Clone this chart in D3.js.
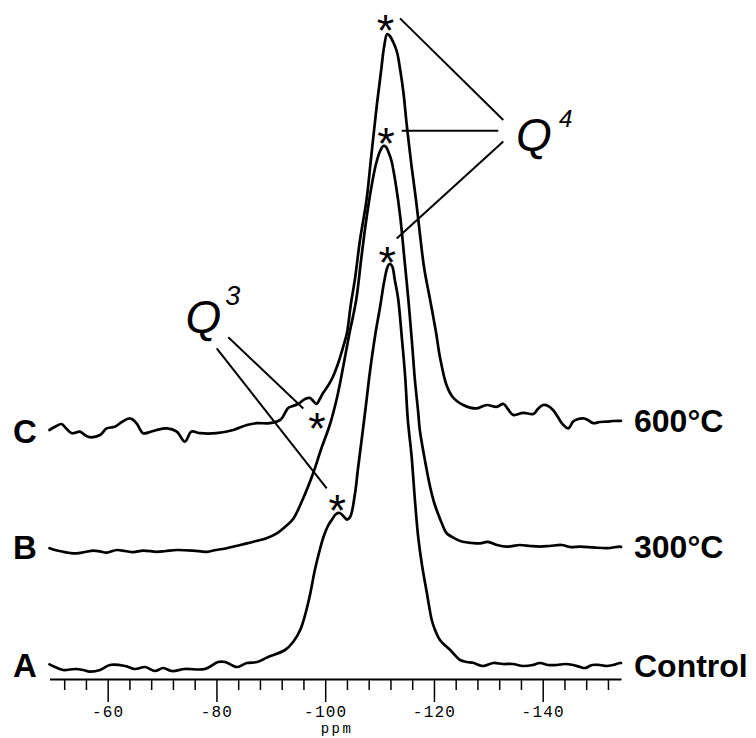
<!DOCTYPE html>
<html><head><meta charset="utf-8">
<script src="https://cdn.jsdelivr.net/npm/d3@7"></script>
<style>body{margin:0;background:#fff}svg{display:block}</style>
</head><body>
<svg id="chart" width="756" height="738"></svg>
<script>
// ---- data: 29Si NMR spectra (ppm, relative intensity) ----
const controlPpm = [-49.3,-50.3,-51.8,-54.0,-55.5,-56.7,-58.6,-60.4,-63.2,-65.0,-66.9,-68.7,-70.2,-71.8,-74.2,-77.9,-80.3,-81.6,-83.8,-85.6,-87.5,-89.5,-92.6,-94.1,-95.4,-96.3,-97.2,-98.1,-99.0,-99.7,-100.5,-101.2,-102.0,-102.7,-103.5,-104.0,-104.6,-105.5,-106.0,-106.7,-107.5,-108.2,-109.2,-110.1,-110.8,-111.4,-111.8,-112.3,-112.8,-113.4,-114.1,-114.7,-115.2,-115.9,-116.5,-117.1,-117.8,-118.7,-119.6,-120.2,-121.1,-123.0,-124.8,-126.1,-127.2,-129.0,-130.9,-132.7,-134.5,-136.4,-138.2,-139.5,-141.0,-142.6,-144.1,-145.6,-146.9,-147.8,-149.1,-150.5,-151.8,-152.9,-154.2,-154.4];
const controlInt = [-0.1,-0.75,-1.5,-1.25,-1.5,-1.9,-1.5,-0.25,-0.5,-1.25,-0.75,-1.75,-1.0,-1.75,-1.25,-1.25,0.5,0.5,-0.75,0.25,0.5,1.75,3.5,5.5,8.5,12.25,17.25,23.5,28.5,31.8,34.5,36,37.5,37.75,36.75,36.1,36.8,42.75,48.5,56,64.75,72.75,82.25,89.3,95.25,99,100,99.5,96,91.5,81.5,72,61,51.8,41,31.8,24.75,17.75,11,8.5,6,3.5,1,0.5,0.3,-0.5,0.25,0,0,-0.5,-0.25,0.25,-0.25,-0.25,0,-0.25,-0.75,-1,-0.25,-0.25,-0.5,-0.25,0.25,0.25];

const t300Ppm = [-49.3,-50.3,-51.8,-53.1,-54.3,-55.8,-57.4,-58.6,-59.8,-61.7,-63.2,-64.7,-66.5,-69.0,-70.7,-72.7,-75.7,-78.2,-79.9,-81.9,-83.6,-85.6,-87.3,-89.2,-91.1,-92.6,-94.1,-95.9,-97.8,-99.2,-100.9,-102.2,-103.3,-104.4,-105.7,-106.6,-107.5,-108.4,-109.3,-110.1,-110.7,-111.2,-111.7,-112.2,-113.0,-113.8,-114.5,-115.3,-116.0,-116.5,-117.1,-117.4,-118.4,-119.3,-120.0,-120.7,-121.5,-122.3,-123.9,-125.3,-127.0,-128.5,-129.9,-131.6,-133.4,-135.8,-137.7,-139.5,-141.3,-143.5,-145.0,-146.9,-149.3,-151.8,-154.2,-154.4];
const t300Int = [0.2,-0.25,-0.7,-1.0,-1.1,-0.75,-0.4,-0.6,-0.9,-0.25,-0.5,-0.8,-0.4,-0.7,-0.5,-0.25,-0.4,-0.7,-0.25,0.2,0.75,1.4,2.0,2.7,3.9,5.5,7.5,12.5,19,24.75,31.25,38,45.5,53.5,62.25,72.25,81.75,89.75,96,99.5,100.75,100.5,99,97,91,83.1,73.5,62.25,51,42.25,34.25,29.75,21.75,15.5,11.75,9,6.25,4,2.6,1.8,1.5,1.4,1.8,1.0,0.6,1.0,0.75,0.6,0.75,1.0,0.5,0.6,0.4,0.2,0.6,0.5];

const t600Ppm = [-49.3,-50.3,-51.5,-52.3,-53.4,-54.9,-55.8,-56.7,-58.6,-59.8,-61.3,-62.6,-64.1,-65.3,-66.5,-67.8,-69.0,-70.9,-72.7,-74.2,-75.4,-77.0,-80.0,-83.1,-85.6,-87.4,-89.8,-91.7,-92.2,-93.2,-94.1,-95.0,-96.3,-97.2,-97.8,-98.4,-99.0,-99.6,-100.5,-101.4,-102.4,-103.3,-104.0,-104.7,-105.5,-106.4,-107.6,-108.4,-109.5,-110.3,-110.8,-111.4,-111.9,-112.5,-113.2,-113.8,-114.4,-115.0,-115.9,-116.7,-117.4,-118.2,-119.3,-120.4,-121.1,-122.3,-123.3,-124.2,-125.4,-126.6,-127.9,-129.7,-131.5,-132.8,-133.6,-134.6,-136.4,-138.3,-139.1,-140.1,-141.0,-141.9,-142.8,-143.5,-144.7,-145.6,-146.5,-147.5,-148.3,-149.3,-150.5,-151.8,-152.9,-154.2,-154.4];
const t600Int = [0,0.8,1.5,0.5,-0.8,-0.4,-1.25,-1.8,-1.25,0.4,0.8,2.0,2.9,1.7,-0.8,-0.5,0,0.4,-0.4,-2.9,-0.4,-0.8,-0.8,0,1.25,1.7,1.7,2.5,3.25,5.5,6.0,6.5,7.75,8.0,7.25,6.5,7.75,9.25,11,13.25,16.75,20.75,24.25,31.25,38,47.5,57.5,67.5,81.25,90,95.5,99,98.5,97,94.5,90,84.25,76.25,65.8,57.5,49.25,40.5,32.5,24.25,18.25,11.25,8.5,7.25,6.25,5.6,5.4,6.25,5.8,6.5,5.25,3.75,4.3,4.0,5.25,6.25,6.0,5.0,3.25,1.7,0.4,2.1,2.75,2.9,2.5,1.7,2.0,2.1,2.25,2.3,2.3];

const seriesLetters = ["A", "B", "C"];
const seriesNames = ["Control", "300°C", "600°C"];
const seriesOffsets = [0, 28.75, 58.5];   // vertical stacking, intensity units

const majorTicks = [-60, -80, -100, -120, -140];
const minorTicks = [-52,-56,-64,-68,-72,-76,-84,-88,-92,-96,-104,-108,-112,-116,-124,-128,-132,-136,-144,-148,-152];

// annotations (ppm, stacked intensity level)
const q4StarPpm = [-111.1, -111.2, -111.4];
const q4StarLevel = [160.9, 132.75, 103.1];
const q3StarPpm = [-98.5, -102.2];
const q3StarLevel = [61.5, 40.9];
const q4Leaders = [[-113.76,161.4,-132.75,136],[-114.07,133.3,-131.83,133.3],[-113.15,106.4,-132.75,130.6]];
const q3Leaders = [[-82.18,81.7,-95.97,63.9],[-80.05,78.9,-100.28,43.9]];

// ---- drawing ----
const svg = d3.select("#chart");
const x = d3.scaleLinear().domain([-49.3, -154.4]).range([49.5, 621]);
const y = d3.scaleLinear().domain([0, 100]).range([664, 264]);

const series = [
  d3.zip(controlPpm, controlInt),
  d3.zip(t300Ppm, t300Int),
  d3.zip(t600Ppm, t600Int)
];

const line = d3.line().curve(d3.curveCatmullRom.alpha(0.5));

series.forEach((pts, i) => {
  svg.append("path")
    .attr("d", line(pts.map(p => [x(p[0]), y(p[1] + seriesOffsets[i])])))
    .attr("fill", "none").attr("stroke", "#000")
    .attr("stroke-width", 2.7).attr("stroke-linejoin", "round").attr("stroke-linecap", "round");
});

// left letters and right names
const leftBase = [677, 559, 443];
const rightBase = [677, 558, 432];
seriesLetters.forEach((t, i) => {
  svg.append("text").attr("x", 13).attr("y", leftBase[i]).text(t)
    .attr("font-family", "Liberation Sans, Arial, sans-serif").attr("font-weight", "bold")
    .attr("font-size", 33).attr("fill", "#000");
});
seriesNames.forEach((t, i) => {
  svg.append("text").attr("x", 634).attr("y", rightBase[i]).text(t)
    .attr("font-family", "Liberation Sans, Arial, sans-serif").attr("font-weight", "bold")
    .attr("font-size", 32).attr("fill", "#000");
});

// axis
const axisY = 679;
const gMinor = svg.append("g").attr("transform", `translate(0,${axisY})`)
  .call(d3.axisBottom(x).tickValues(minorTicks).tickSize(11).tickSizeOuter(0).tickFormat(""));
const gMajor = svg.append("g").attr("transform", `translate(0,${axisY})`)
  .call(d3.axisBottom(x).tickValues(majorTicks).tickSize(23).tickSizeOuter(0).tickFormat(d3.format("d")));
[gMinor, gMajor].forEach(g => {
  g.selectAll(".tick line").attr("stroke", "#000").attr("stroke-width", 1.5);
  g.select(".domain").attr("stroke", "#000").attr("stroke-width", 2);
});
gMinor.select(".domain").remove();
gMajor.selectAll(".tick text")
  .attr("y", 38).attr("dy", null).attr("fill", "#000")
  .attr("font-family", "Liberation Mono, Courier New, monospace")
  .attr("font-size", 16).attr("letter-spacing", 1.2)
  .text(d => d3.format("d")(d).replace("−", "-"));

svg.append("text").attr("x", 337).attr("y", 733).attr("text-anchor", "middle")
  .attr("font-family", "Liberation Mono, Courier New, monospace").attr("font-size", 14)
  .attr("letter-spacing", 2.5).attr("fill", "#000").text("ppm");

// leader lines
[...q4Leaders, ...q3Leaders].forEach(l => {
  svg.append("line")
    .attr("x1", x(l[0])).attr("y1", y(l[1])).attr("x2", x(l[2])).attr("y2", y(l[3]))
    .attr("stroke", "#000").attr("stroke-width", 2);
});

// asterisks
const starPpm = [...q4StarPpm, ...q3StarPpm];
const starLevel = [...q4StarLevel, ...q3StarLevel];
starPpm.forEach((p, i) => {
  svg.append("text").attr("x", x(p)).attr("y", y(starLevel[i]) + 26)
    .attr("text-anchor", "middle")
    .attr("font-family", "Liberation Sans, Arial, sans-serif").attr("font-size", 45)
    .attr("fill", "#000").text("*");
});

// Q labels
function qLabel(ppm, level, supPpm, supLevel, sup, supSize) {
  svg.append("text").attr("x", x(ppm)).attr("y", y(level))
    .attr("font-family", "Liberation Sans, Arial, sans-serif").attr("font-style", "italic")
    .attr("font-size", 46).attr("fill", "#000").text("Q");
  svg.append("text").attr("x", x(supPpm)).attr("y", y(supLevel))
    .attr("font-family", "Liberation Sans, Arial, sans-serif").attr("font-style", "italic")
    .attr("font-size", supSize).attr("fill", "#000").text(sup);
}
qLabel(-135.1, 128.25, -143.0, 134.2, "4", 24);
qLabel(-74.3, 82.75, -81.6, 89.7, "3", 27);
</script>
</body></html>
